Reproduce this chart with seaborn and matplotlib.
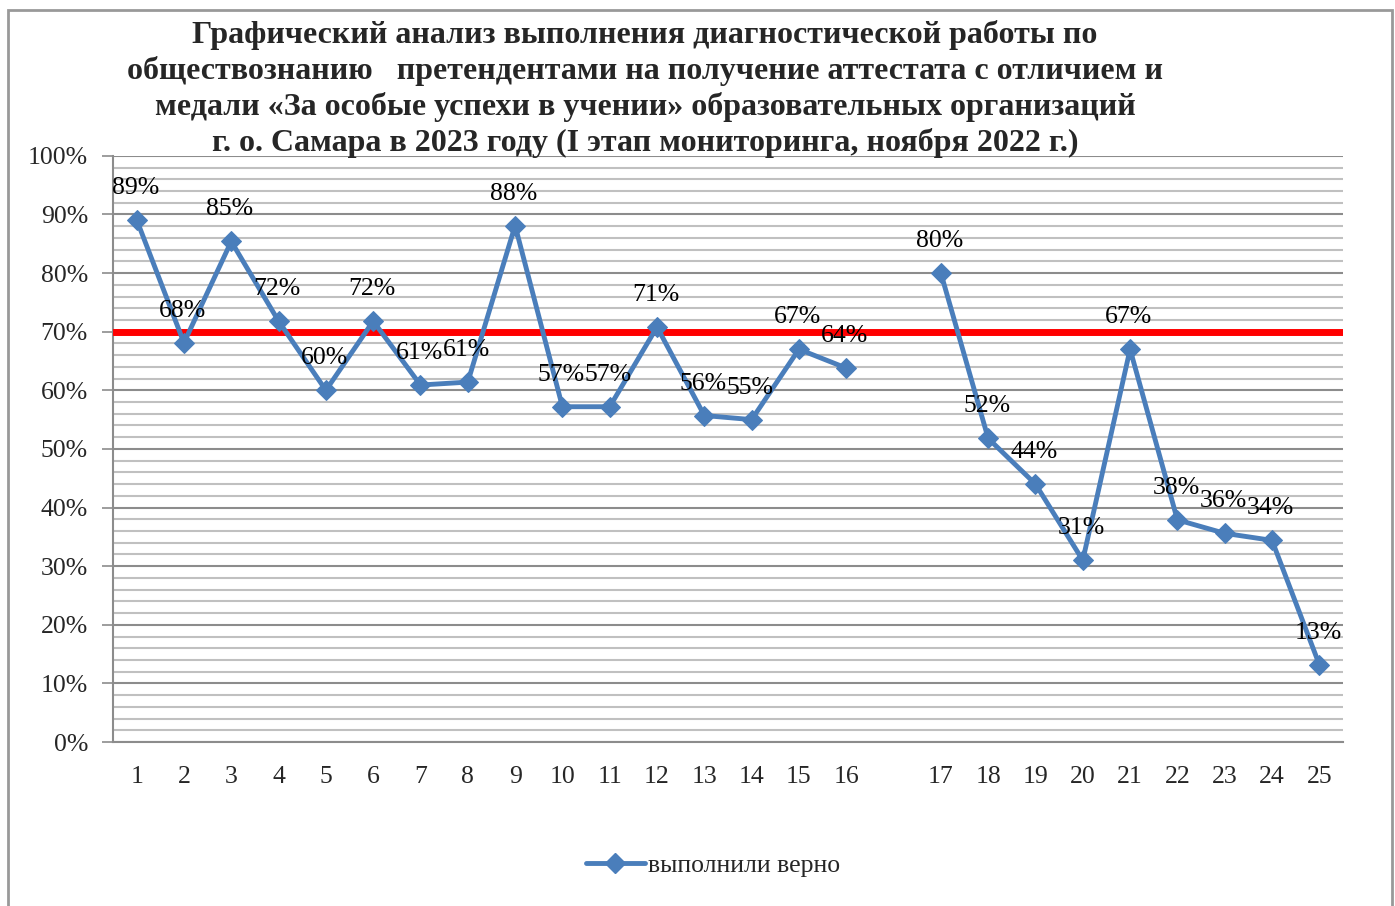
import numpy as np
import pandas as pd
import seaborn as sns
import matplotlib.pyplot as plt
from matplotlib.lines import Line2D
from matplotlib.patches import Rectangle
from matplotlib.ticker import MultipleLocator, PercentFormatter

# ************************************************************************
# Data (blank slot between tasks 16 and 17)
# ************************************************************************

tasks = ['1', '2', '3', '4', '5', '6', '7', '8', '9', '10', '11', '12', '13',
         '14', '15', '16', '', '17', '18', '19', '20', '21', '22', '23', '24', '25']
done_right = [89.1, 68.1, 85.4, 71.8, 60.0, 71.8, 60.9, 61.4, 88.1, 57.2, 57.2, 70.8, 55.7,
              55.0, 67.0, 63.8, np.nan, 80.0, 51.8, 44.0, 31.0, 67.0, 37.9, 35.6, 34.4, 13.2]
threshold = 70
title = ('Графический анализ выполнения диагностической работы по\n'
         'обществознанию   претендентами на получение аттестата с отличием и\n'
         'медали «За особые успехи в учении» образовательных организаций\n'
         'г. о. Самара в 2023 году (I этап мониторинга, ноября 2022 г.)')
series_name = 'выполнили верно'

df = pd.DataFrame({'task': tasks, 'value': done_right})
df['pos'] = np.arange(len(df))
df['seg'] = (df['value'].isna()).cumsum()
df = df.dropna()

# ************************************************************************
# Plot
# ************************************************************************

sns.set_style('white')
plt.rcParams['font.family'] = ['Liberation Serif', 'DejaVu Serif']

blue = '#4a7ebb'
fig = plt.figure(figsize=(13.95, 9.06), dpi=100)
ax = fig.add_axes([0.081, 0.181, 0.8817, 0.647])

sns.lineplot(data=df, x='pos', y='value', units='seg', estimator=None, color=blue,
             linewidth=3.5, marker='D', markersize=10, markeredgecolor=blue, ax=ax,
             zorder=4)

ax.axhline(threshold, color='#ff0000', linewidth=5, zorder=3)

for _, r in df.iterrows():
    ax.annotate(f"{r['value']:.0f}%", (r['pos'], r['value']), xytext=(-1, 23),
                textcoords='offset points', ha='center', va='center', fontsize=18.5,
                color='black', zorder=5)

ax.set_xlim(-0.5, len(tasks) - 0.5)
ax.set_ylim(0, 100)
ax.yaxis.set_major_locator(MultipleLocator(10))
ax.yaxis.set_minor_locator(MultipleLocator(2))
ax.yaxis.set_major_formatter(PercentFormatter(decimals=0))
ax.grid(which='major', axis='y', color='#8c8c8c', linewidth=1.5, zorder=1)
ax.grid(which='minor', axis='y', color='#c0c0c0', linewidth=1.5, zorder=1)
ax.set_axisbelow(True)

ax.set_xticks(range(len(tasks)))
ax.set_xticklabels(tasks)
ax.set_xticks(np.arange(-0.5, len(tasks)), minor=True)
ax.tick_params(axis='x', which='major', length=0, labelsize=18.5, pad=17)
ax.tick_params(axis='x', which='minor', length=7, width=1.2, color='#8c8c8c', direction='out')
ax.tick_params(axis='y', which='major', length=8, width=1.2, color='#8c8c8c', direction='out',
               labelsize=18.5, left=True, pad=10)
ax.tick_params(axis='y', which='minor', length=0)
ax.set_xlabel('')
ax.set_ylabel('')

for side in ['top', 'right']:
    ax.spines[side].set_visible(False)
for side in ['left', 'bottom']:
    ax.spines[side].set_color('#8c8c8c')
    ax.spines[side].set_linewidth(1.5)

fig.text(0.4624, 0.978, title, ha='center', va='top', fontsize=23, fontweight='bold',
         linespacing=1.26)

handle = Line2D([], [], color=blue, linewidth=3.5, marker='D', markersize=10)
ax.legend([handle], [series_name], loc='center', bbox_to_anchor=(0.511, 0.045),
          bbox_transform=fig.transFigure, frameon=False, fontsize=18.5,
          handlelength=2.3, handletextpad=0.1)

fig.patches.append(Rectangle((0.0057, -0.1), 0.992, 1.089, transform=fig.transFigure,
                             fill=False, edgecolor='#999999', linewidth=2))

plt.savefig('out.png', dpi=100)
